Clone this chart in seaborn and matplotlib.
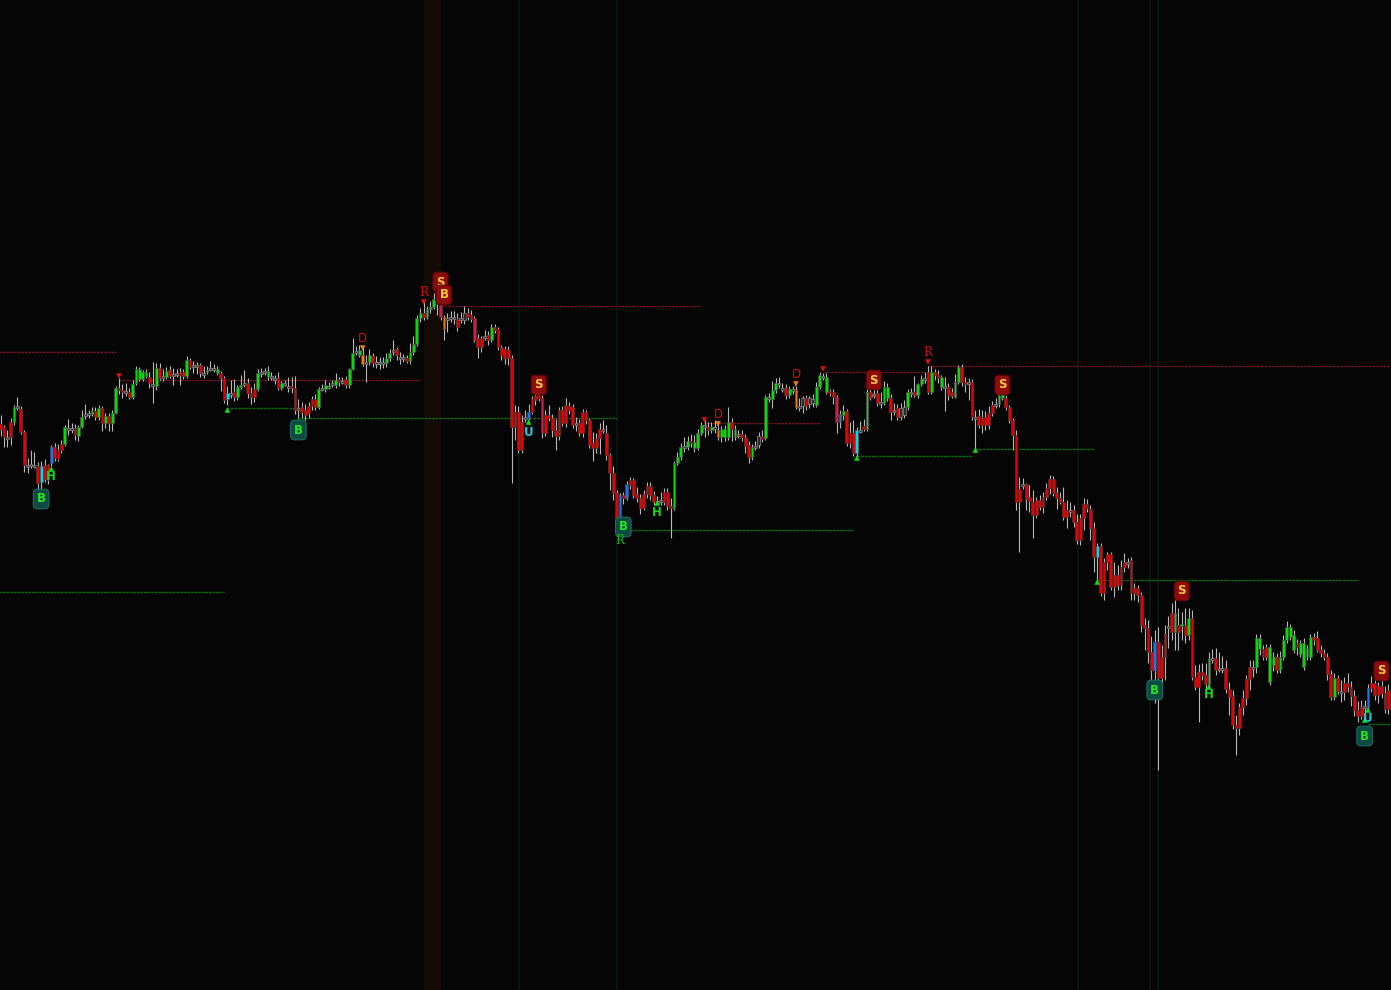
import matplotlib
matplotlib.use("Agg")
import matplotlib.pyplot as plt
import seaborn as sns
import pandas as pd
import numpy as np

# ---------------- data (price levels in chart units; larger value = lower price, axis inverted) ----------------
opens = [424,427,437,422,422,407,409,432,465,465,465,466,482,465,465,463,447,450,444,444,
428,429,428,436,427,415,414,414,411,417,408,423,416,423,413,388,390,392,392,397,
383,379,379,376,377,384,386,368,377,377,370,375,373,372,372,376,360,365,365,365,
373,372,369,368,373,373,378,399,393,392,397,387,384,383,393,389,389,372,371,377,
376,378,378,388,383,386,386,388,408,407,410,406,399,399,407,388,389,386,384,385,
379,381,379,385,369,351,355,355,362,362,356,362,363,363,363,358,350,349,357,357,
358,361,352,344,318,313,317,309,307,297,295,317,318,317,318,319,318,313,313,315,
318,338,338,336,335,340,327,329,347,349,350,358,412,412,422,418,418,399,396,395,
398,415,415,418,430,410,410,405,406,407,423,423,412,412,420,443,438,429,430,433,
455,473,493,523,495,498,480,480,494,498,494,486,486,495,501,501,492,492,506,508,
463,457,447,447,441,448,448,433,425,427,430,427,430,437,437,437,422,437,434,434,
437,445,457,446,445,436,438,397,399,390,383,388,388,395,389,389,406,406,398,398,
399,405,387,376,392,391,392,397,422,415,411,433,433,453,430,426,429,392,394,393,
402,403,398,398,410,408,417,415,407,393,392,395,384,379,372,392,372,374,387,386,
387,392,397,382,367,382,382,382,417,416,417,417,413,405,404,404,398,398,407,420,
435,489,485,484,497,502,500,500,497,488,479,479,493,498,502,510,510,510,522,518,
504,504,509,528,557,546,562,554,554,575,575,567,562,562,560,588,588,595,625,628,
652,670,642,657,634,626,613,632,625,626,625,635,618,677,672,672,675,684,658,658,
668,668,668,689,696,725,707,698,679,667,667,667,649,649,647,682,665,657,670,657,
640,637,650,643,654,667,657,657,637,638,650,653,657,674,697,678,691,683,683,687,
696,710,707,707,707,683,683,686,686,693,690]
closes = [429,437,438,437,407,406,432,465,466,464,466,483,466,479,480,447,458,459,450,427,
429,428,435,427,417,414,413,411,417,408,423,416,423,413,388,390,392,391,397,384,
369,369,372,372,383,385,368,378,376,371,376,374,373,375,376,360,367,365,365,373,
373,370,368,368,369,378,400,393,393,397,387,385,383,393,397,397,373,372,371,371,
377,378,388,383,383,387,388,410,408,412,415,413,406,407,389,388,385,386,383,380,
382,381,385,369,353,351,350,364,362,355,363,363,362,362,358,353,350,355,358,358,
361,352,344,318,313,317,309,307,299,297,317,329,319,317,317,327,318,320,317,319,
340,347,347,336,340,327,330,347,355,358,358,427,427,450,450,417,412,412,400,398,
433,433,418,430,436,436,423,423,410,425,423,433,433,420,445,448,448,438,429,455,
473,493,523,495,498,484,485,495,498,508,508,494,495,502,501,500,502,506,508,463,
457,447,446,441,443,442,433,425,426,430,427,427,437,429,429,422,429,429,435,437,
446,457,447,446,436,439,397,398,390,383,383,388,395,389,389,407,406,398,406,404,
403,387,375,376,377,393,397,422,414,411,443,443,453,430,430,429,392,398,394,403,
402,387,387,412,410,417,408,407,392,392,395,384,379,378,392,372,375,378,377,387,
395,396,382,367,382,384,382,417,418,425,425,425,425,413,404,389,389,407,420,435,
502,502,484,499,501,515,515,507,507,497,488,493,498,502,517,517,510,522,540,540,
518,508,528,557,546,593,593,562,587,587,585,585,567,562,593,593,595,625,628,652,
670,642,678,678,657,626,632,613,632,624,635,618,677,687,687,675,684,658,658,670,
668,668,689,697,725,728,728,707,698,679,668,638,638,657,657,647,657,670,657,640,
627,627,635,647,643,643,648,637,640,650,653,657,674,697,678,691,691,692,687,696,
710,716,716,706,688,688,695,695,693,709,709]
highs = [415,425,430,418,405,397,406,430,458,450,452,462,461,459,464,445,443,444,440,425,
419,423,424,425,410,404,410,407,407,405,406,413,413,410,386,378,384,383,388,380,
366,367,370,369,372,362,363,363,369,367,366,368,369,368,369,356,358,361,362,363,
366,366,361,364,366,371,376,386,380,379,385,375,370,378,387,383,369,368,368,366,
372,375,372,381,380,377,377,376,399,402,404,402,396,394,387,384,380,382,380,373,
377,377,376,368,338,346,345,348,355,349,353,356,357,357,353,349,340,347,352,354,
355,343,336,315,308,302,306,301,293,290,293,315,313,311,311,313,312,306,308,310,
316,334,336,330,331,324,324,327,345,346,346,355,405,406,415,410,404,396,393,392,
395,410,405,414,419,407,406,398,402,404,417,419,409,410,418,432,433,423,420,425,
453,466,490,493,492,481,477,478,487,494,490,482,482,491,496,492,488,488,498,461,
452,443,437,436,434,435,429,422,420,422,422,420,424,426,425,407,418,425,430,430,
434,441,444,441,432,430,395,393,381,378,377,383,384,386,386,386,398,396,395,396,
394,382,372,373,373,389,389,395,410,405,409,422,420,427,421,419,388,383,382,386,
392,381,383,394,403,404,403,400,389,388,376,383,375,372,366,366,369,370,375,377,
383,388,374,365,364,377,378,379,410,409,410,411,406,401,398,386,386,395,405,418,
430,477,478,483,485,490,497,495,492,483,475,476,487,492,487,500,502,505,514,514,
498,499,505,522,543,543,558,552,552,562,565,560,553,558,557,583,585,592,618,620,
636,630,627,645,625,616,603,599,608,612,608,608,610,665,664,663,663,652,649,648,
652,656,660,682,690,715,703,690,675,660,660,634,634,645,644,644,652,653,651,635,
621,624,630,639,640,638,645,634,633,631,645,649,653,670,673,675,680,677,673,681,
690,701,700,700,684,676,680,682,680,686,684]
lows = [436,447,447,445,425,410,434,472,473,468,468,490,489,482,484,466,461,461,453,446,
435,433,440,441,428,419,418,416,420,420,431,428,431,431,414,394,398,396,399,399,
385,381,381,378,388,403,390,380,381,379,378,385,377,385,379,378,369,373,374,377,
378,374,371,372,375,391,403,405,398,401,400,389,387,398,404,402,391,377,375,380,
380,384,390,390,386,392,393,414,418,418,420,418,410,410,409,391,392,389,387,388,
386,384,388,388,370,355,357,366,382,365,367,368,369,368,367,361,355,360,364,362,
363,364,355,346,322,320,319,313,309,315,320,340,332,322,324,331,323,324,320,322,
342,358,352,340,345,342,333,350,360,364,365,483,440,453,453,422,420,414,405,401,
438,436,421,437,450,440,426,427,414,428,431,436,437,424,448,461,453,454,433,460,
490,500,526,526,504,500,489,498,502,514,510,498,500,505,504,505,505,510,538,510,
465,460,452,450,447,452,450,435,437,435,433,433,440,442,441,440,441,440,438,441,
453,463,460,450,448,442,440,402,408,393,388,392,399,398,394,409,411,413,410,408,
407,407,389,380,394,396,404,433,428,420,446,448,456,458,433,431,431,400,398,406,
408,405,401,420,415,420,420,418,410,397,397,398,386,383,394,394,380,383,390,411,
400,398,398,384,386,392,400,420,452,428,433,430,429,416,408,407,400,410,423,450,
510,552,489,510,512,538,518,510,513,500,494,496,509,504,520,528,517,527,544,545,
530,512,540,572,582,596,600,570,590,597,590,590,572,568,600,600,602,632,650,663,
683,703,770,685,680,648,640,650,650,640,643,640,680,690,722,680,693,688,663,675,
672,673,693,715,729,755,735,715,705,690,677,673,655,660,660,685,671,673,673,660,
643,640,653,655,657,670,660,660,645,652,657,660,680,700,700,694,702,700,692,706,
716,722,719,720,710,692,700,703,698,713,714]

# indicator states of individual candles (index -> state)
state_idx = [12,67,253,324, 15,156,183,185,341,404, 130,140,160,247, 107,131,212,235, 248,
             132,137,224,237,239,240,266,267]
state_name = ["cyan"]*4 + ["blue"]*6 + ["pink"]*4 + ["orange"]*4 + ["teal"] + ["gray"]*8

# signal labels: candle index, level
s_idx, s_lvl = [130,159,258,296,349,408], [282,385,380,385,591,671]
bsell_idx, bsell_lvl = [131], [295]
bbuy_idx, bbuy_lvl = [12,88,184,341,403], [499,430,527,690,736]
r_idx, r_lvl = [125,274], [293,353]
rg_idx, rg_lvl = [183], [541]
d_idx, d_lvl = [107,212,235], [338,414,375]
h_idx, h_lvl = [15,194,357], [477,512,694]
u_idx, u_lvl = [156,404], [433,718]
tri_up_idx = [15,67,88,156,183,194,253,288,324,357,403,404]
tri_up_lvl = [469,410,421,422,531,503,458,450,582,687,720,710]
tri_dn_idx, tri_dn_lvl = [35,125,208,243,274], [376,302,420,369,362]
tri_or_idx, tri_or_lvl = [107,212,235], [348,424,384]

# resistance / support levels: level, from-candle, to-candle
res_level, res_from, res_to = [352,380,306,423,372,366], [-1,35,131,208,243,274], [34,124,207,242,273,412]
sup_level, sup_from, sup_to = [592,408,418,530,456,449,580,724], [-1,67,88,184,253,288,324,404], [66,87,182,252,287,323,401,412]

# session shading: (from, to, colour key)
band_from = [125.2, 153.0, 181.9, 318.1, 339.2, 341.6]
band_to   = [130.2, 153.6, 182.4, 318.5, 339.8, 342.3]
band_kind = ["brown", "teal", "teal", "teal", "teal", "teal"]

# ---------------- figure ----------------
BG = "#050505"
sns.set_theme(style="dark", rc={"axes.facecolor": BG, "figure.facecolor": BG})
plt.rcParams["font.family"] = ["DejaVu Sans"]

fig = plt.figure(figsize=(13.91, 9.90), dpi=100)
ax = fig.add_axes([0, 0, 1, 1])
ax.set_facecolor(BG)

df = pd.DataFrame({"o": opens, "c": closes, "h": highs, "l": lows})
df["i"] = np.arange(len(df))

band_col = {"brown": "#130906", "teal": "#09130f"}
for a, b, k in zip(band_from, band_to, band_kind):
    ax.axvspan(a, b, color=band_col[k], lw=0, zorder=0)

# levels
for lv, a, b in zip(res_level, res_from, res_to):
    ax.hlines(lv, a, b, colors="#6c1428", linewidth=1.0, linestyles=(0, (2.0, 0.6)), zorder=1)
for lv, a, b in zip(sup_level, sup_from, sup_to):
    ax.hlines(lv, a, b, colors="#0a6c10", linewidth=1.0, linestyles=(0, (2.0, 0.6)), zorder=1)

# wicks
ax.vlines(df["i"], df["h"], df["l"], colors="#b8b8b8", linewidth=0.8, zorder=2)

# bodies
state_col = {"cyan": ("#00d8ec", "#3a6a70"), "blue": ("#1e74e0", "#34507a"),
             "pink": ("#c8204c", "#6a2a3a"), "orange": ("#f07a10", "#6a4a2a"),
             "teal": ("#1f8a8a", "#3a5a5a"), "gray": ("#2a2a2a", "#8a8a8a")}
states = dict(zip(state_idx, state_name))
fc, ec = [], []
for i, (o, c) in enumerate(zip(opens, closes)):
    if i in states:
        f, e = state_col[states[i]]
    elif abs(c - o) <= 1:
        f, e = "#3a3a3a", "#8a8a8a"
    elif c < o:
        f, e = "#00e000", "#4c4c4c"
    else:
        f, e = "#e80000", "#5a3030"
    fc.append(f); ec.append(e)
bottom = np.minimum(df["o"], df["c"])
height = np.maximum(np.abs(df["c"] - df["o"]), 2.0)
ax.bar(df["i"], height, bottom=bottom, width=0.82, color=fc, edgecolor=ec, linewidth=0.5, zorder=3)

# triangles
tri = pd.DataFrame({
    "i": tri_up_idx + tri_dn_idx + tri_or_idx,
    "y": tri_up_lvl + tri_dn_lvl + tri_or_lvl,
    "k": ["up"]*len(tri_up_idx) + ["dn"]*len(tri_dn_idx) + ["or"]*len(tri_or_idx)})
sns.scatterplot(data=tri, x="i", y="y", hue="k", style="k",
                palette={"up": "#10e010", "dn": "#e01010", "or": "#f08010"},
                markers={"up": "^", "dn": "v", "or": "v"}, s=16, linewidth=0,
                legend=False, ax=ax, zorder=4)

# labels
def boxed(idx, lvl, txt, tc, fcol, ecol):
    for i, y in zip(idx, lvl):
        ax.text(i, y, txt, ha="center", va="center", fontsize=8.5, fontweight="bold", color=tc,
                zorder=6, bbox=dict(boxstyle="round,pad=0.28,rounding_size=0.35", fc=fcol, ec=ecol, lw=0.8))

boxed(s_idx, s_lvl, "S", "#ffc83a", "#8c0c0c", "#5c0404")
boxed(bsell_idx, bsell_lvl, "B", "#ffc83a", "#8c0c0c", "#5c0404")
boxed(bbuy_idx, bbuy_lvl, "B", "#22e622", "#0c4a42", "#1e6a62")

def plain(idx, lvl, txt, col, bold=False, family="DejaVu Serif"):
    for i, y in zip(idx, lvl):
        ax.text(i, y, txt, ha="center", va="center", fontsize=8.5, color=col, family=family,
                fontweight="bold" if bold else "normal", zorder=6)

plain(r_idx, r_lvl, "R", "#c81010")
plain(rg_idx, rg_lvl, "R", "#10b020")
plain(d_idx, d_lvl, "D", "#d01010", family="DejaVu Sans")
plain(h_idx, h_lvl, "H", "#20d020", bold=True, family="DejaVu Sans")
plain(u_idx, u_lvl, "U", "#20c8d8", bold=True, family="DejaVu Sans")

ax.set_xlim(-0.15, 410.8)
ax.set_ylim(990, 0)
ax.set_xticks([]); ax.set_yticks([])
ax.set_xlabel(""); ax.set_ylabel("")
for sp in ax.spines.values():
    sp.set_visible(False)
ax.grid(False)

fig.savefig("out.png", dpi=100, facecolor=BG)
